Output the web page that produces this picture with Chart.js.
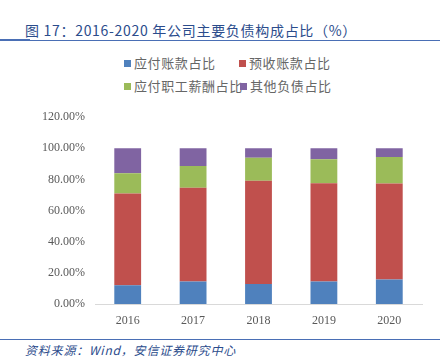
<!DOCTYPE html>
<html><head><meta charset="utf-8">
<script src="https://cdn.jsdelivr.net/npm/chart.js@4"></script>
<style>
html,body{margin:0;padding:0;background:#fff;width:444px;height:360px;overflow:hidden;position:relative;font-family:"Noto Sans CJK SC",sans-serif;}
#title{position:absolute;left:25px;top:20px;font-size:14px;color:#2b4c8c;white-space:nowrap;letter-spacing:0.7px;}
#tline{position:absolute;left:0;top:40px;width:440px;height:1px;background:#4a6fb5;}
#tline2{position:absolute;left:0;top:39px;width:30px;height:2px;background:#4a6fb5;}
#bline{position:absolute;left:0;top:339px;width:440px;height:1px;background:#4a6fb5;}
#source{position:absolute;left:25px;top:341px;font-size:12px;color:#2b4c8c;font-style:italic;white-space:nowrap;letter-spacing:0.8px;}
.lg{position:absolute;font-size:13px;color:#666;white-space:nowrap;line-height:16px;letter-spacing:0.6px;}
.lg span{display:inline-block;width:7px;height:7px;margin-right:3px;vertical-align:1px;}
#wrap{position:absolute;left:0;top:100px;width:444px;height:235px;}
</style></head><body>
<div id="title">图 17：2016-2020 年公司主要负债构成占比（%）</div>
<div id="tline"></div><div id="tline2"></div>
<div id="legend"></div>
<div id="wrap"><canvas id="c" width="444" height="235"></canvas></div>
<div id="bline"></div>
<div id="source">资料来源：Wind，安信证券研究中心</div>
<script>
const categories = ["2016","2017","2018","2019","2020"];
const seriesNames = ["应付账款占比","预收账款占比","应付职工薪酬占比","其他负债占比"];
const payables   = [12.0, 14.4, 12.9, 14.4, 15.8];
const advances   = [59.0, 60.3, 66.2, 63.2, 61.6];
const salaries   = [13.0, 13.9, 14.8, 15.4, 17.1];
const otherDebts = [16.0, 11.4, 6.1, 7.0, 5.5];
const yTicks = [0, 20, 40, 60, 80, 100, 120];

const colors = ["#4f81bd","#c0504d","#9bbb59","#8064a2"];
const seriesData = [payables, advances, salaries, otherDebts];

// HTML legend (2 rows x 2)
const legendPos = [[124,55],[239,55],[124,78],[240,78]];
const lg = document.getElementById('legend');
seriesNames.forEach((n,i)=>{
  const d = document.createElement('div');
  d.className='lg';
  d.style.left = legendPos[i][0]+'px';
  d.style.top = legendPos[i][1]+'px';
  d.innerHTML = '<span style="background:'+colors[i]+'"></span>'+n;
  lg.appendChild(d);
});

new Chart(document.getElementById('c'), {
  type: 'bar',
  data: {
    labels: categories,
    datasets: seriesNames.map((n,i)=>({
      label: n, data: seriesData[i], backgroundColor: colors[i],
      borderWidth: 0, categoryPercentage: 1, barPercentage: 0.41
    }))
  },
  options: {
    responsive: false, animation: false,
    layout: {padding: {top: 10.5, right: 22, left: 0, bottom: 0}},
    plugins: {legend: {display: false}, tooltip: {enabled: false}},
    scales: {
      x: {
        stacked: true,
        grid: {display: false, drawTicks: false},
        border: {display: true, color: '#d9d9d9', width: 1},
        ticks: {color: '#595959', font: {family: '"Liberation Serif", serif', size: 12}, padding: 10},
        afterFit: s => { s.height = 31; }
      },
      y: {
        stacked: true, min: 0, max: 120,
        afterBuildTicks: s => { s.ticks = yTicks.map(v=>({value:v})); },
        grid: {display: false, drawTicks: false},
        border: {display: false},
        ticks: {color: '#595959', font: {family: '"Liberation Serif", serif', size: 12}, padding: 10,
          callback: v => v.toFixed(2) + '%'},
        afterFit: s => { s.width = 95; }
      }
    }
  }
});
</script>
</body></html>
